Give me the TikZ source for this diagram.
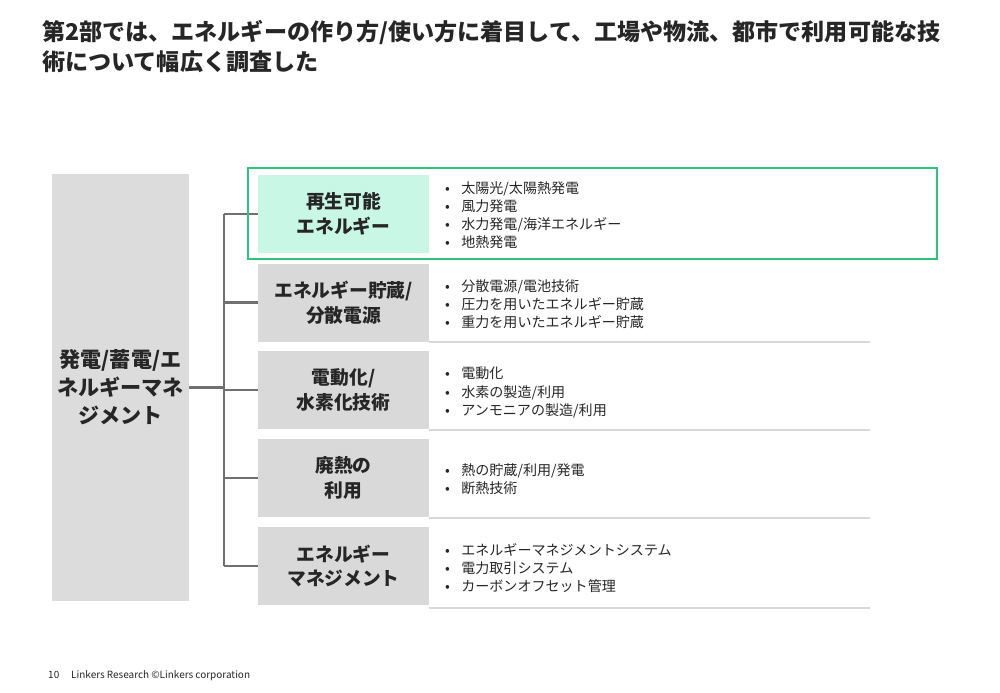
\documentclass[tikz,border=0pt]{standalone}
\usepackage{fontspec}
\setmainfont{Noto Sans CJK JP}
\definecolor{boxgray}{HTML}{D9D9D9}
\definecolor{leftgray}{HTML}{DCDCDC}
\definecolor{mint}{HTML}{C9F7E6}
\definecolor{frame}{HTML}{2EC47E}
\definecolor{txt}{HTML}{262626}
\definecolor{linegray}{HTML}{707070}
\begin{document}
\begin{tikzpicture}[x=0.03cm,y=-0.03cm,
 cat/.style={fill=boxgray,minimum width=171*0.03cm,minimum height=78*0.03cm,align=center,font=\fontsize{16}{21}\selectfont\bfseries,text=txt,inner sep=0},
 items/.style={anchor=north west,align=left,font=\fontsize{12}{15.6}\selectfont,text=txt,inner sep=0},
 conn/.style={draw=linegray,line width=2pt},
 sep/.style={draw=boxgray,line width=1pt}]
\useasboundingbox (0,0) rectangle (1000,692);
\node[anchor=north west,align=left,font=\fontsize{19.7}{26}\selectfont\bfseries,text=txt,inner sep=0] (title) at (42,20) {第2部では、エネルギーの作り方/使い方に着目して、工場や物流、都市で利用可能な技\\術について幅広く調査した};
\node[fill=leftgray,minimum width=137*0.03cm,minimum height=427*0.03cm,inner sep=0,align=center,font=\fontsize{18}{24}\selectfont\bfseries,text=txt] (L) at (120.5,387.5) {発電/蓄電/エ\\ネルギーマネ\\ジメント};
\node[cat,fill=mint] (c1) at (343.5,214) {再生可能\\エネルギー};
\node[cat] (c2) at (343.5,302.5) {エネルギー貯蔵/\\分散電源};
\node[cat] (c3) at (343.5,390) {電動化/\\水素化技術};
\node[cat] (c4) at (343.5,478) {廃熱の\\利用};
\node[cat] (c5) at (343.5,566) {エネルギー\\マネジメント};
\coordinate (j) at (224,387.5);
\draw[conn] (L.east) -- (j);
\draw[conn] (224,214) -- (224,566);
\foreach \c in {c1,c2,c3,c4,c5} \draw[conn] (\c.west -| j) -- (\c.west);
\draw[sep] (429,342) -- (870,342);
\draw[sep] (429,430) -- (870,430);
\draw[sep] (429,518) -- (870,518);
\draw[sep] (429,608) -- (870,608);
\node[items] (i1) at (445,181) {•\hspace{0.8em}太陽光/太陽熱発電\\•\hspace{0.8em}風力発電\\•\hspace{0.8em}水力発電/海洋エネルギー\\•\hspace{0.8em}地熱発電};
\node[items] (i2) at (445,279) {•\hspace{0.8em}分散電源/電池技術\\•\hspace{0.8em}圧力を用いたエネルギー貯蔵\\•\hspace{0.8em}重力を用いたエネルギー貯蔵};
\node[items] (i3) at (445,367) {•\hspace{0.8em}電動化\\•\hspace{0.8em}水素の製造/利用\\•\hspace{0.8em}アンモニアの製造/利用};
\node[items] (i4) at (445,463) {•\hspace{0.8em}熱の貯蔵/利用/発電\\•\hspace{0.8em}断熱技術};
\node[items] (i5) at (445,543) {•\hspace{0.8em}エネルギーマネジメントシステム\\•\hspace{0.8em}電力取引システム\\•\hspace{0.8em}カーボンオフセット管理};
\draw[draw=frame,line width=2pt] (248,168) rectangle (937,259);
\node[anchor=west,font=\fontsize{8.5}{10}\selectfont,text=txt,inner sep=0] (foot) at (48,676) {10\hspace{1.2em}Linkers Research ©Linkers corporation};
\end{tikzpicture}
\end{document}
